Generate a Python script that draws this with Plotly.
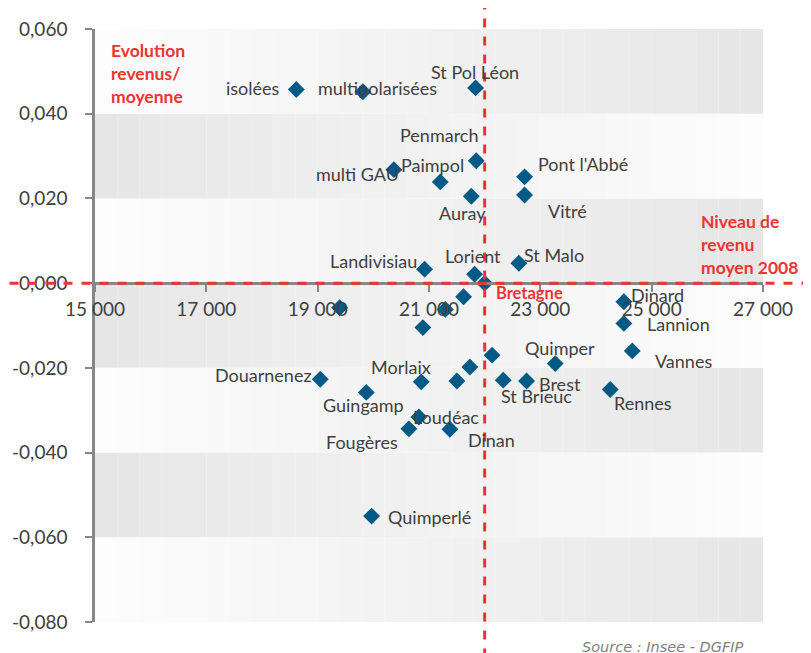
import plotly.graph_objects as go

# ---------------- data ----------------
names = ["isolées", "multipolarisées", "St Pol Léon", "Penmarch", "multi GAU", "Paimpol",
         "Auray", "Pont l'Abbé", "Vitré", "Landivisiau", "Lorient", "St Malo", "Bretagne",
         "", "", "", "", "", "Dinard", "Lannion", "Vannes", "Quimper", "",
         "Morlaix", "", "St Brieuc", "Brest", "Rennes", "Douarnenez", "Guingamp",
         "Loudéac", "Fougères", "Dinan", "Quimperlé"]
revenu = [18616, 19812, 21837, 21849, 20369, 21203,
          21760, 22717, 22717, 20921, 21819, 22615, 22000,
          19394, 21293, 21621, 20890, 22133, 24501, 24501, 24652, 23268, 21734,
          20861, 21501, 22334, 22753, 24256, 19047, 19873,
          20818, 20639, 21375, 19969]
evolution = [0.0457, 0.0452, 0.0461, 0.0289, 0.0268, 0.0239,
             0.0205, 0.0251, 0.0208, 0.0033, 0.0021, 0.0047, 0.0,
             -0.0058, -0.0062, -0.0032, -0.0105, -0.0170, -0.0044, -0.0095, -0.0160, -0.0190, -0.0198,
             -0.0233, -0.0231, -0.0229, -0.0231, -0.0251, -0.0227, -0.0258,
             -0.0316, -0.0344, -0.0345, -0.0550]

ref_revenu = 22000      # Niveau de revenu moyen 2008 (Bretagne)
ref_evolution = 0.0

x_tick_vals = [15000, 17000, 19000, 21000, 23000, 25000, 27000]
x_tick_labels = ["15 000", "17 000", "19 000", "21 000", "23 000", "25 000", "27 000"]
y_tick_vals = [0.06, 0.04, 0.02, 0.0, -0.02, -0.04, -0.06, -0.08]
y_tick_labels = ["0,060", "0,040", "0,020", "0,000", "-0,020", "-0,040", "-0,060", "-0,080"]

# ---------------- label placement (style) ----------------
# name: (xanchor, dx px, dy px downward)
label_pos = {
    "isolées": ("right", -14, -2),
    "multipolarisées": ("left", -47, -4),
    "St Pol Léon": ("center", -1, -16),
    "Penmarch": ("right", 4, -26),
    "multi GAU": ("right", 7, 4),
    "Paimpol": ("center", -8, -17),
    "Auray": ("center", -9, 17),
    "Pont l'Abbé": ("left", 11, -13),
    "Vitré": ("left", 21, 16),
    "Landivisiau": ("right", -6, -8),
    "Lorient": ("center", -2, -18),
    "St Malo": ("left", 3, -8),
    "Bretagne": ("left", 9, 10),
    "Dinard": ("left", 5, -7),
    "Lannion": ("left", 21, 1),
    "Vannes": ("left", 21, 10),
    "Quimper": ("center", 5, -16),
    "Brest": ("left", 10, 3),
    "St Brieuc": ("left", -4, 16),
    "Rennes": ("left", 2, 14),
    "Douarnenez": ("right", -6, -4),
    "Guingamp": ("center", -3, 13),
    "Morlaix": ("center", -20, -15),
    "Loudéac": ("left", -8, 0),
    "Fougères": ("right", -9, 13),
    "Dinan": ("left", 16, 11),
    "Quimperlé": ("left", 14, 1),
}

RED = "#ee3333"
AXIS = "#878787"
TXT = "#404040"
LABEL_FONT = "Lato"

fig = go.Figure()

fig.add_trace(go.Scatter(
    x=revenu, y=evolution, mode="markers",
    marker=dict(symbol="diamond", size=13, color="#005a86"),
    hoverinfo="text", text=names, showlegend=False, cliponaxis=False,
))

# ---------------- gradient bands ----------------
shapes = []
xmin, xmax = x_tick_vals[0], x_tick_vals[-1]
ys = sorted(y_tick_vals)
nstrip = 30
light = (253, 253, 253)
dark = (230, 230, 230)
for i in range(len(ys) - 1):
    y0, y1 = ys[i], ys[i + 1]
    left_light = (i % 2 == 0)
    for k in range(nstrip):
        t = (k + 0.5) / nstrip
        if not left_light:
            t = 1 - t
        c = tuple(round(light[j] + (dark[j] - light[j]) * t) for j in range(3))
        xa = xmin + (xmax - xmin) * k / nstrip
        xb = xmin + (xmax - xmin) * (k + 1) / nstrip
        shapes.append(dict(type="rect", xref="x", yref="y", x0=xa, x1=xb, y0=y0, y1=y1,
                           fillcolor="rgb(%d,%d,%d)" % c, line=dict(width=0), layer="below"))

# dashed reference lines, extending beyond the plot area
shapes.append(dict(type="line", xref="x", yref="paper", x0=ref_revenu, x1=ref_revenu,
                   y0=-0.06, y1=1.036, line=dict(color=RED, width=3, dash="dash"), layer="above"))
shapes.append(dict(type="line", xref="paper", yref="y", x0=-0.128, x1=1.08,
                   y0=ref_evolution, y1=ref_evolution,
                   line=dict(color=RED, width=3, dash="dash"), layer="above"))

# ---------------- annotations ----------------
ann = []
for n, xv, yv in zip(names, revenu, evolution):
    if not n:
        continue
    xa, dx, dy = label_pos[n]
    is_ref = (n == "Bretagne")
    ann.append(dict(x=xv, y=yv, xref="x", yref="y", text=("<b>%s</b>" % n) if is_ref else n,
                    showarrow=False, xanchor=xa, yanchor="middle", xshift=dx, yshift=-dy,
                    font=dict(family=LABEL_FONT, size=18 if not is_ref else 16.5,
                              color=RED if is_ref else TXT)))

ann.append(dict(xref="paper", yref="paper", x=0.021, y=0.984, xanchor="left", yanchor="top",
                text="<b>Evolution<br>revenus/<br>moyenne</b>", align="left", showarrow=False,
                font=dict(family=LABEL_FONT, size=17.5, color=RED)))
ann.append(dict(xref="paper", yref="paper", x=0.904, y=0.697, xanchor="left", yanchor="top",
                text="<b>Niveau de<br>revenu<br>moyen 2008</b>", align="left", showarrow=False,
                font=dict(family=LABEL_FONT, size=17.5, color=RED)))
ann.append(dict(xref="paper", yref="paper", x=0.975, y=-0.026, xanchor="right", yanchor="top",
                text="<i>Source : Insee - DGFIP</i>", showarrow=False,
                font=dict(family="DejaVu Sans", size=14.5, color="#7f7f7f")))

ypos = (ref_evolution - ys[0]) / (ys[-1] - ys[0])

# the page adds an 8 px body margin: figure is 8 px smaller, left/top margins reduced by 8 px
fig.update_layout(
    width=803, height=645,
    margin=dict(l=87, r=48, t=21, b=31),
    paper_bgcolor="white", plot_bgcolor="white",
    shapes=shapes, annotations=ann,
    xaxis=dict(range=[xmin, xmax], tickvals=x_tick_vals, ticktext=x_tick_labels,
               showgrid=False, zeroline=False, showline=True, linecolor=AXIS, linewidth=2.5,
               ticks="outside", ticklen=7, tickwidth=2, tickcolor=AXIS, automargin=False,
               anchor="free", position=ypos, ticklabelstandoff=1,
               tickfont=dict(family=LABEL_FONT, size=19, color=TXT)),
    yaxis=dict(range=[ys[0], ys[-1]], tickvals=y_tick_vals, ticktext=y_tick_labels,
               showgrid=False, zeroline=False, showline=True, linecolor=AXIS, linewidth=2.5,
               ticks="outside", ticklen=7, tickwidth=2, tickcolor=AXIS, automargin=False,
               ticklabelstandoff=14,
               tickfont=dict(family=LABEL_FONT, size=19, color=TXT)),
)

fig.write_html("out.html")
